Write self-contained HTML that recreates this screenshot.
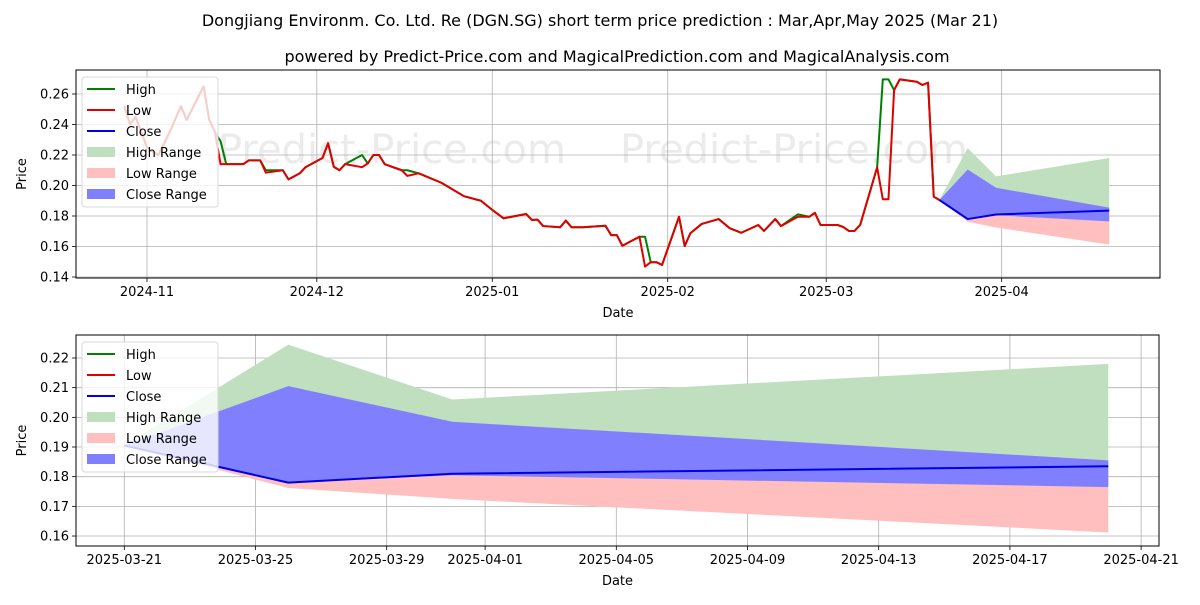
<!DOCTYPE html>
<html><head><meta charset="utf-8"><style>
body{margin:0;background:#fff;width:1200px;height:600px;overflow:hidden}
svg{font-family:"DejaVu Sans","Liberation Sans",sans-serif}
</style></head><body>
<svg id="chart" width="1200" height="600" xmlns="http://www.w3.org/2000/svg">
<text x="600" y="26" text-anchor="middle" font-size="16">Dongjiang Environm. Co. Ltd. Re (DGN.SG) short term price prediction : Mar,Apr,May 2025 (Mar 21)</text>
<text x="617" y="62" text-anchor="middle" font-size="16">powered by Predict-Price.com and MagicalPrediction.com and MagicalAnalysis.com</text>
</svg>
<script>
// History data: days since 2024-11-01
const histDays = [-4,-3,-2,0,2,4,6,7,10,11,12,13,14,17,18,20,21,24,25,27,28,31,32,33,34,35,38,39,40,41,42,45,46,48,52,56,59,61,63,67,68,69,70,73,74,75,77,81,82,83,84,87,88,89,90,91,94,95,96,98,101,103,105,108,109,111,112,115,117,118,119,122,123,124,125,126,129,130,131,132,133,136,137,138,139,140];
const histLow = [0.252,0.240,0.245,0.225,0.220,0.235,0.252,0.243,0.265,0.243,0.235,0.214,0.214,0.214,0.2165,0.2165,0.2084,0.210,0.204,0.208,0.212,0.218,0.2277,0.2123,0.210,0.214,0.212,0.2145,0.220,0.220,0.214,0.210,0.2063,0.208,0.2018,0.193,0.190,0.184,0.1785,0.1813,0.1774,0.1776,0.1734,0.1726,0.177,0.1726,0.1726,0.1736,0.1675,0.1675,0.1605,0.1664,0.1468,0.1497,0.1497,0.1479,0.1795,0.1603,0.1687,0.1748,0.178,0.1719,0.169,0.1741,0.1702,0.178,0.1734,0.1795,0.1795,0.1821,0.1741,0.1741,0.1728,0.1702,0.1702,0.1741,0.2119,0.191,0.191,0.2626,0.2696,0.268,0.2659,0.2674,0.1927,0.1905];
const histHigh = [0.252,0.240,0.245,0.225,0.220,0.235,0.252,0.243,0.265,0.243,0.235,0.229,0.214,0.214,0.2165,0.2165,0.210,0.210,0.204,0.208,0.212,0.218,0.2277,0.2123,0.210,0.214,0.220,0.2145,0.220,0.220,0.214,0.210,0.210,0.208,0.2018,0.193,0.190,0.184,0.1785,0.1813,0.1774,0.1776,0.1734,0.1726,0.177,0.1726,0.1726,0.1736,0.1675,0.1675,0.1605,0.1664,0.1664,0.1497,0.1497,0.1479,0.1795,0.1603,0.1687,0.1748,0.178,0.1719,0.169,0.1741,0.1702,0.178,0.1734,0.1811,0.1795,0.1821,0.1741,0.1741,0.1728,0.1702,0.1702,0.1741,0.2119,0.2696,0.2696,0.2626,0.2696,0.268,0.2659,0.2674,0.1927,0.1905];
// Forecast (days since 2024-11-01)
const fcDays = [140,145,150,170];
const fcClose = [0.1905,0.178,0.181,0.1835];
const fcHighUp = [0.1905,0.2245,0.206,0.218];
const fcCloseUp = [0.1905,0.2105,0.1985,0.1855];
const fcCloseLo = [0.1905,0.178,0.1805,0.1765];
const fcLowLo = [0.1905,0.1762,0.1725,0.1612];
const topYTicks = [0.14,0.16,0.18,0.20,0.22,0.24,0.26];
const topXTickLabels = ["2024-11","2024-12","2025-01","2025-02","2025-03","2025-04"];
const topXTickDays = [0,30,61,92,120,151];
const botYTicks = [0.16,0.17,0.18,0.19,0.20,0.21,0.22];
const botXTickLabels = ["2025-03-21","2025-03-25","2025-03-29","2025-04-01","2025-04-05","2025-04-09","2025-04-13","2025-04-17","2025-04-21"];
const botXTickDays = [0,4,8,11,15,19,23,27,31];

const NS="http://www.w3.org/2000/svg";
const svg=document.getElementById('chart');
function mk(tag,attrs,parent){const e=document.createElementNS(NS,tag);for(const k in attrs)e.setAttribute(k,attrs[k]);(parent||svg).appendChild(e);return e;}

function drawPanel(p){
  const g=mk('g',{});
  
  
  const X=p.x, Y=p.y;
  const cid='clip-'+p.name;
  const defs=mk('defs',{},g);
  const cp=mk('clipPath',{id:cid},defs);
  mk('rect',{x:p.L,y:p.T,width:p.R-p.L,height:p.B-p.T},cp);
  p.wm.forEach(w=>{const t=mk('text',{x:w[0],y:w[1],'font-size':40,fill:'#ebebeb','clip-path':'url(#'+cid+')'},g);t.textContent='Predict-Price.com';
    
    });
  p.yt.forEach(v=>{const y=Y(v);
    mk('line',{x1:p.L,x2:p.R,y1:y,y2:y,stroke:'#b0b0b0','stroke-width':0.8},g);
    mk('line',{x1:p.L-4,x2:p.L,y1:y,y2:y,stroke:'#000','stroke-width':0.8},g);
    const t=mk('text',{x:p.L-7,y:y+4.5,'text-anchor':'end','font-size':13},g);t.textContent=v.toFixed(2);
    
    });
  p.xd.forEach((d,i)=>{const x=X(d);
    mk('line',{x1:x,x2:x,y1:p.T,y2:p.B,stroke:'#b0b0b0','stroke-width':0.8},g);
    mk('line',{x1:x,x2:x,y1:p.B,y2:p.B+4,stroke:'#000','stroke-width':0.8},g);
    const t=mk('text',{x:x,y:p.B+18,'text-anchor':'middle','font-size':13},g);t.textContent=p.xl[i];
    
    });
  const cg=mk('g',{'clip-path':'url(#'+cid+')'},g);
  function band(up,lo,fill,name){let pts=fcDays.map((d,i)=>X(d)+','+Y(up[i]));
    pts=pts.concat(fcDays.slice().reverse().map((d,i)=>X(d)+','+Y(lo[fcDays.length-1-i])));
    const e=mk('polygon',{points:pts.join(' '),fill:fill},cg);
    
    }
  band(fcHighUp,fcClose,'#bfdfbf','high-range-band');
  band(fcClose,fcLowLo,'#ffbfbf','low-range-band');
  band(fcCloseUp,fcCloseLo,'#8080ff','close-range-band');
  function line(days,vals,col,name){const e=mk('polyline',{points:days.map((d,i)=>X(d)+','+Y(vals[i])).join(' '),fill:'none',stroke:col,'stroke-width':2,'stroke-linejoin':'round'},cg);
    
    }
  if(p.hist){
    line(histDays,histHigh,'#008000','high-line');
    line(histDays,histLow,'#e00000','low-line');
  }
  line(fcDays,fcClose,'#0000e0','close-line');
  mk('rect',{x:p.L,y:p.T,width:p.R-p.L,height:p.B-p.T,fill:'none',stroke:'#000','stroke-width':1},g);
  const lg=mk('g',{},g);
  
  
  const lx=p.L+6, ly=p.T+7;
  mk('rect',{x:lx,y:ly,width:136,height:130,rx:3,fill:'rgba(255,255,255,0.8)',stroke:'#d8d8d8'},lg);
  const items=[['High','line','#008000'],['Low','line','#e00000'],['Close','line','#0000e0'],['High Range','box','#bfdfbf'],['Low Range','box','#ffbfbf'],['Close Range','box','#8080ff']];
  items.forEach((it,i)=>{const cy=ly+12+i*21;
    if(it[1]=='line')mk('line',{x1:lx+5,x2:lx+33,y1:cy,y2:cy,stroke:it[2],'stroke-width':2},lg);
    else mk('rect',{x:lx+5,y:cy-5,width:28,height:10,fill:it[2]},lg);
    const t=mk('text',{x:lx+44,y:cy+5,'font-size':13},lg);t.textContent=it[0];
    
    });
  const yl=mk('text',{x:0,y:0,'font-size':13,'text-anchor':'middle',transform:'translate(26,'+((p.T+p.B)/2)+') rotate(-90)'},g);yl.textContent='Price';
  
  
  const xl=mk('text',{x:(p.L+p.R)/2,y:p.B+39,'font-size':13,'text-anchor':'middle'},g);xl.textContent='Date';
  
  
}
drawPanel({name:'top-panel',L:76,R:1160,T:70,B:278,hist:true,
  x:d=>147+d*5.66, y:v=>277-(v-0.14)/0.02*30.5,
  yt:topYTicks, xd:topXTickDays, xl:topXTickLabels, wm:[[218,163],[620,163],[218,313],[620,313]]});
drawPanel({name:'bottom-panel',L:76,R:1159,T:335,B:546,hist:false,
  x:d=>124.3+(d-140)*32.8, y:v=>358-(v-0.22)/0.01*29.67,
  yt:botYTicks, xd:botXTickDays.map(d=>d+140), xl:botXTickLabels, wm:[[218,462],[620,462]]});
</script>
</body></html>
